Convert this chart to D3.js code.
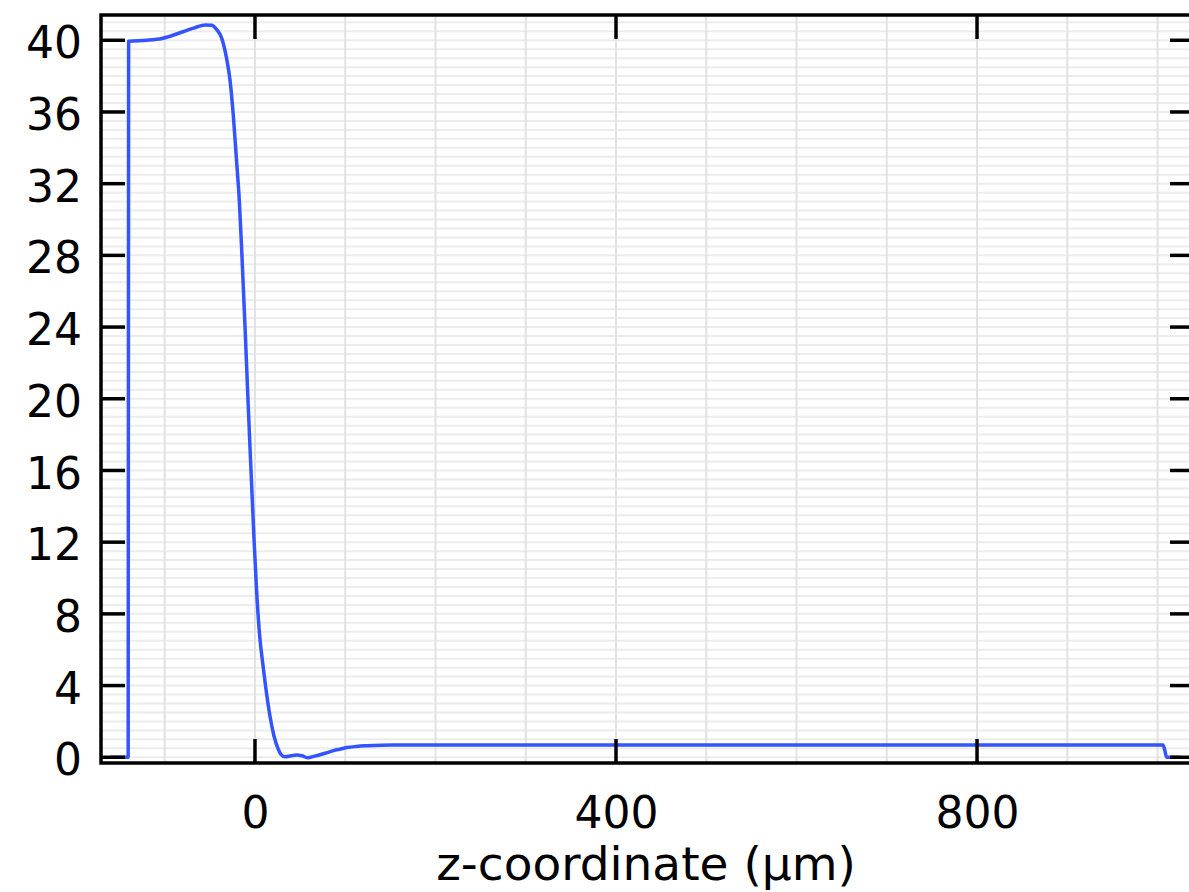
<!DOCTYPE html>
<html>
<head>
<meta charset="utf-8">
<script src="https://cdn.jsdelivr.net/npm/d3@7"></script>
<style>
body { margin: 0; background: #fff; }
text { font-family: "DejaVu Sans", sans-serif; fill: #000; }
</style>
</head>
<body>
<svg id="chart" width="1189" height="892"></svg>
<script>
// data: z in um, value
var zCoord = [-160, -140.5, -140, -120, -103, -83, -68, -55, -48, -42.5, -37, -31.5, -27.7, -24, -20.3,
	-17.4, -14.8, -11, -7.8, -4.4, -1.1, 1.9, 5, 9.2, 13, 16.6, 21, 25.8, 29, 33.2, 40, 46.2, 52, 59,
	65, 72, 80, 87, 95, 102, 112, 124, 140, 157, 194, 250, 400, 600, 800, 1000, 1006, 1008, 1010, 1025];
var values = [0, 0, 39.95, 40.0, 40.1, 40.42, 40.68, 40.85, 40.84, 40.6, 40.13, 39.0, 37.8, 35.8, 33.2,
	31.1, 28.4, 24, 20, 16, 12.2, 9.2, 6.9, 5.0, 3.5, 2.3, 1.2, 0.45, 0.15, 0.03, 0.08, 0.12, 0.08, -0.03,
	0.05, 0.14, 0.26, 0.37, 0.46, 0.54, 0.6, 0.64, 0.67, 0.68, 0.69, 0.69, 0.69, 0.69, 0.69, 0.69, 0.68, 0.4, 0, 0];
var xTicks = [0, 400, 800];
var yTicks = [0, 4, 8, 12, 16, 20, 24, 28, 32, 36, 40];
var xGrid = [-100, 0, 100, 200, 300, 400, 500, 600, 700, 800, 900, 1000];
var yGrid = d3.range(0, 41.5, 0.5);
var xTitle = "z-coordinate (µm)";

// plot box (window.top is taken, so no plain "top")
var boxL = 101, boxR = 1194, boxT = 15, boxB = 763;
var x = d3.scaleLinear().domain([-170.6, 1040.4]).range([boxL, boxR]);
var y = d3.scaleLinear().domain([-0.32, 41.41]).range([boxB, boxT]);

var svg = d3.select("#chart");

//
// grid
//
var grid = svg.append("g");
grid.selectAll("line.h").data(yGrid).enter().append("line")
	.attr("x1", boxL).attr("x2", boxR)
	.attr("y1", function(d) { return y(d); }).attr("y2", function(d) { return y(d); })
	.attr("stroke", "#ececec").attr("stroke-width", 2);
grid.selectAll("line.v").data(xGrid).enter().append("line")
	.attr("y1", boxT).attr("y2", boxB)
	.attr("x1", function(d) { return x(d); }).attr("x2", function(d) { return x(d); })
	.attr("stroke", "#e2e2e2").attr("stroke-width", 2);

//
// curve
//
var line = d3.line()
	.x(function(d, i) { return x(zCoord[i]); })
	.y(function(d) { return y(d); })
	.curve(d3.curveMonotoneX);
svg.append("path")
	.datum(values)
	.attr("fill", "none")
	.attr("stroke", "#3354ff")
	.attr("stroke-width", 3.5)
	.attr("stroke-linejoin", "round")
	.attr("d", line);

//
// axes, ticks point inward on all four sides
//
var tickLen = 24;
var axisBottom = d3.axisBottom(x).tickValues(xTicks).tickSize(0).tickPadding(33).tickFormat(d3.format("d"));
var gx = svg.append("g").attr("transform", "translate(0," + boxB + ")").call(axisBottom);
gx.select(".domain").remove();
gx.selectAll("text").attr("font-size", 44).attr("dy", "0.72em");

var axisLeft = d3.axisLeft(y).tickValues(yTicks).tickSize(0).tickPadding(19).tickFormat(d3.format("d"));
var gy = svg.append("g").attr("transform", "translate(" + boxL + ",0)").call(axisLeft);
gy.select(".domain").remove();
gy.selectAll("text").attr("font-size", 44).attr("dy", "0.4em");

var ticks = svg.append("g").attr("stroke", "#000").attr("stroke-width", 3.5);
ticks.selectAll("line.l").data(yTicks).enter().append("line")
	.attr("x1", boxL).attr("x2", boxL + tickLen)
	.attr("y1", function(d) { return y(d); }).attr("y2", function(d) { return y(d); });
ticks.selectAll("line.r").data(yTicks).enter().append("line")
	.attr("x1", boxR - tickLen).attr("x2", boxR)
	.attr("y1", function(d) { return y(d); }).attr("y2", function(d) { return y(d); });
ticks.selectAll("line.b").data(xTicks).enter().append("line")
	.attr("y1", boxB).attr("y2", boxB - tickLen)
	.attr("x1", function(d) { return x(d); }).attr("x2", function(d) { return x(d); });
ticks.selectAll("line.t").data(xTicks).enter().append("line")
	.attr("y1", boxT).attr("y2", boxT + tickLen)
	.attr("x1", function(d) { return x(d); }).attr("x2", function(d) { return x(d); });

// frame
svg.append("rect")
	.attr("x", boxL).attr("y", boxT)
	.attr("width", boxR - boxL).attr("height", boxB - boxT)
	.attr("fill", "none").attr("stroke", "#000").attr("stroke-width", 3.5);

svg.append("text")
	.attr("x", 646).attr("y", 880)
	.attr("text-anchor", "middle")
	.attr("font-size", 47)
	.text(xTitle);
</script>
</body>
</html>
